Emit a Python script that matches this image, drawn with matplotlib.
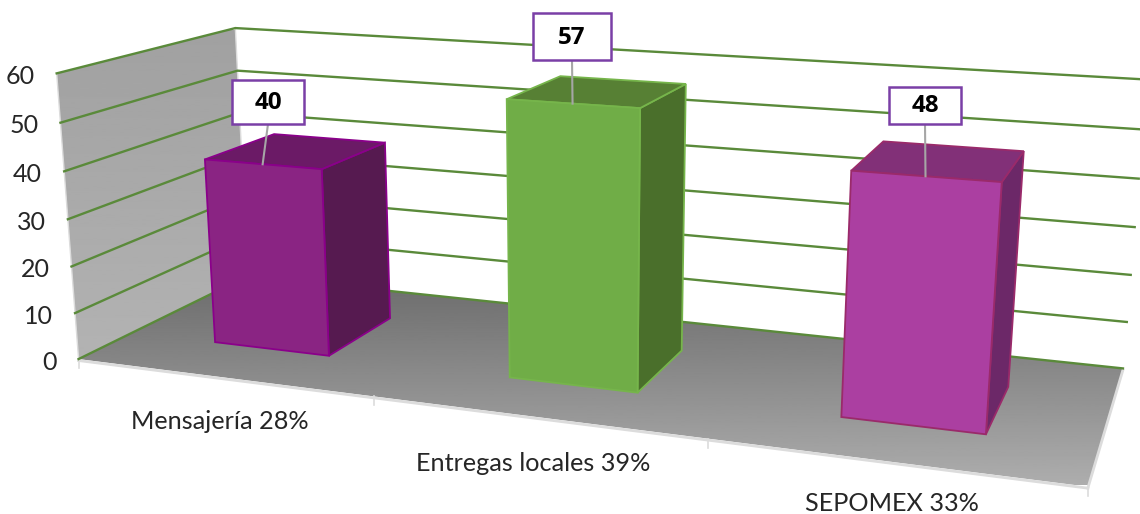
import numpy as np
import matplotlib
matplotlib.use('Agg')
import matplotlib.pyplot as plt
from matplotlib.patches import Polygon, Rectangle

categories = ['Mensajería 28%', 'Entregas locales 39%', 'SEPOMEX 33%']
values = [40, 57, 48]
y_ticks = [0, 10, 20, 30, 40, 50, 60]

front_colors = ['#8a2483', '#70ad47', '#ab3fa1']
top_colors = ['#6b1a66', '#578034', '#823078']
side_colors = ['#561a50', '#4a6f2b', '#6c2868']
edge_colors = ['#8a008a', '#76b54b', '#9a2a6a']
label_boxes = [(232, 80, 72, 44), (533, 13, 78, 47), (889, 87, 72, 37)]
cat_offsets = [(-2, 44), (-3, 47), (0, 42)]

GRID = '#5a8a3a'
EDGE = '#dcdcdc'
BAR_W = 0.40
Z0, Z1 = 0.29, 0.71

# chart-space corners (category, value, depth) and where they land on the canvas
world = [(0, 0, 0), (0, 60, 0), (0, 0, 1), (0, 60, 1), (3, 0, 0), (3, 0, 1), (3, 60, 1), (1, 0, 0), (2, 0, 0)]
canvas = [(79, 358), (57, 73), (248, 276), (235, 28), (1088, 485), (1123, 368), (1147, 80), (373, 398), (708, 440)]


def fit_camera(world, canvas):
    A = []
    b = []
    for (X, Y, Z), (u, v) in zip(world, canvas):
        A.append([X, Y, Z, 1, 0, 0, 0, 0, -u*X, -u*Y, -u*Z])
        A.append([0, 0, 0, 0, X, Y, Z, 1, -v*X, -v*Y, -v*Z])
        b += [u, v]
    sol = np.linalg.lstsq(np.array(A, float), np.array(b, float), rcond=None)[0]
    return np.append(sol, 1).reshape(3, 4)


P = fit_camera(world, canvas)


def proj(x, y, z):
    p = P @ np.array([x, y, z, 1.0])
    return p[0] / p[2], p[1] / p[2]


fig = plt.figure(figsize=(11.4, 5.14), dpi=100)
ax = fig.add_axes([0, 0, 1, 1])
W, H = 1140, 514


def gradient(poly, top, bottom, y0, y1, z):
    # vertical grey ramp clipped to a polygon
    ramp = np.linspace(top, bottom, 256).reshape(-1, 1)
    im = ax.imshow(ramp, extent=(0, W, y1, y0), cmap='gray', vmin=0, vmax=1, aspect='auto', zorder=z)
    im.set_clip_path(Polygon(poly, transform=ax.transData))


# left wall and floor
wall = [proj(0, 0, 0), proj(0, 60, 0), proj(0, 60, 1), proj(0, 0, 1)]
gradient(wall, 0.63, 0.70, 30, 358, 1)
floor = [proj(0, 0, 0), proj(0, 0, 1), proj(3, 0, 1), proj(3, 0, 0)]
gradient(floor, 0.42, 0.68, 276, 485, 1)

# light outline around the floor and wall
for a, b in [((0, 0, 0), (0, 60, 0)), ((0, 0, 1), (0, 60, 1))]:
    pa, pb = proj(*a), proj(*b)
    ax.plot([pa[0], pb[0]], [pa[1], pb[1]], color=EDGE, lw=1, zorder=2)
for a, b in [((0, 0, 0), (3, 0, 0)), ((3, 0, 0), (3, 0, 1))]:
    pa, pb = proj(*a), proj(*b)
    ax.plot([pa[0], pb[0]], [pa[1] + 1.5, pb[1] + 1.5], color=EDGE, lw=2, zorder=2)
for i in range(4):
    px, py = proj(i, 0, 0)
    ax.plot([px, px], [py, py + 9], color=EDGE, lw=1.2, zorder=2)

# gridlines run along the left wall and the back wall
for v in y_ticks:
    a, b, c = proj(0, v, 0), proj(0, v, 1), proj(3, v, 1)
    ax.plot([a[0], b[0], c[0]], [a[1], b[1], c[1]], color=GRID, lw=1.7, zorder=3, solid_joinstyle='miter')
    ax.text(a[0] - 22, a[1] + 3, str(v), ha='right', va='center', fontsize=18, family='Lato',
            color='#262626', zorder=6)

# bars
for i, v in enumerate(values):
    x0 = i + 0.5 - BAR_W / 2
    x1 = i + 0.5 + BAR_W / 2
    kw = dict(edgecolor=edge_colors[i], lw=1.3, joinstyle='miter', zorder=4)
    side = [proj(x1, 0, Z0), proj(x1, 0, Z1), proj(x1, v, Z1), proj(x1, v, Z0)]
    top = [proj(x0, v, Z0), proj(x1, v, Z0), proj(x1, v, Z1), proj(x0, v, Z1)]
    front = [proj(x0, 0, Z0), proj(x1, 0, Z0), proj(x1, v, Z0), proj(x0, v, Z0)]
    ax.add_patch(Polygon(side, facecolor=side_colors[i], **kw))
    ax.add_patch(Polygon(top, facecolor=top_colors[i], **kw))
    ax.add_patch(Polygon(front, facecolor=front_colors[i], **kw))

    # value label with leader down to the top of the bar
    bx, by, bw, bh = label_boxes[i]
    tip = proj(i + 0.5, v, Z0)
    ax.plot([bx + bw / 2, tip[0]], [by + bh, tip[1]], color='#a6a6a6', lw=1.5, zorder=5)
    ax.add_patch(Rectangle((bx, by), bw, bh, facecolor='white', edgecolor='#7a3fa6', lw=1.8, zorder=6))
    ax.text(bx + bw / 2, by + bh / 2 + 1, str(v), ha='center', va='center', fontsize=17.5,
            fontweight='bold', family='Open Sans', color='black', zorder=7)

    px, py = proj(i + 0.5, 0, 0)
    ax.text(px + cat_offsets[i][0], py + cat_offsets[i][1], categories[i], ha='center', va='center',
            fontsize=18.2, family='Lato', color='#262626', zorder=6)

ax.set_xlim(0, W)
ax.set_ylim(H, 0)
ax.axis('off')
fig.savefig('out.png', dpi=100)
